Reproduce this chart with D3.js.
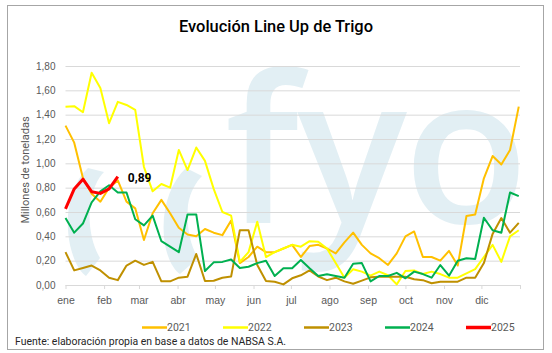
<!DOCTYPE html>
<html>
<head>
<meta charset="utf-8">
<script src="https://cdn.jsdelivr.net/npm/d3@7"></script>
<style>
body { margin: 0; background: #fff; }
svg { display: block; font-family: Roboto, 'Open Sans', sans-serif; }
</style>
</head>
<body>
<div id="chart"></div>
<script>
// datos semanales (millones de toneladas), semana 1 = 1 de enero
var months = ['ene', 'feb', 'mar', 'abr', 'may', 'jun', 'jul', 'ago', 'sep', 'oct', 'nov', 'dic'];
var yTicks = [0, 0.2, 0.4, 0.6, 0.8, 1.0, 1.2, 1.4, 1.6, 1.8];
var years = ['2021', '2022', '2023', '2024', '2025'];
var colors = ['#FFC000', '#FFFF00', '#BF9000', '#00B050', '#FF0000'];

var y2021 = [1.31, 1.17, 0.88, 0.75, 0.685, 0.80, 0.86, 0.685, 0.63, 0.37, 0.59, 0.70, 0.59, 0.47, 0.415, 0.40, 0.46, 0.43, 0.41, 0.53,
  0.18, 0.23, 0.315, 0.27, 0.27, 0.30, 0.33, 0.23, 0.32, 0.33, 0.30, 0.26, 0.35, 0.43, 0.33, 0.26, 0.22, 0.165, 0.26, 0.40,
  0.44, 0.23, 0.23, 0.20, 0.28, 0.16, 0.567, 0.58, 0.877, 1.06, 0.99, 1.11, 1.466];
var y2022 = [1.466, 1.47, 1.42, 1.745, 1.62, 1.33, 1.505, 1.48, 1.44, 0.97, 0.77, 0.83, 0.80, 1.11, 0.945, 1.13, 1.02, 0.79, 0.60, 0.57,
  0.19, 0.27, 0.52, 0.23, 0.27, 0.30, 0.33, 0.315, 0.36, 0.355, 0.30, 0.18, 0.06, 0.13, 0.11, 0.077, 0.11, 0.08, 0.005, 0.115,
  0.12, 0.09, 0.11, 0.09, 0.06, 0.06, 0.096, 0.13, 0.23, 0.33, 0.19, 0.40, 0.45];
var y2023 = [0.27, 0.12, 0.14, 0.16, 0.12, 0.06, 0.04, 0.16, 0.20, 0.165, 0.19, 0.03, 0.03, 0.06, 0.068, 0.255, 0.033, 0.035, 0.06, 0.07,
  0.45, 0.45, 0.165, 0.033, 0.027, 0.005, 0.055, 0.08, 0.12, 0.07, 0.04, 0.06, 0.03, 0.01, 0.036, 0.063, 0.068, 0.068, 0.068, 0.068,
  0.047, 0.04, 0.014, 0.027, 0.027, 0.027, 0.06, 0.06, 0.18, 0.42, 0.55, 0.43, 0.51];
var y2024 = [0.55, 0.43, 0.505, 0.68, 0.77, 0.82, 0.76, 0.76, 0.54, 0.49, 0.57, 0.36, 0.315, 0.27, 0.58, 0.58, 0.115, 0.186, 0.19, 0.21,
  0.14, 0.15, 0.18, 0.20, 0.074, 0.137, 0.137, 0.205, 0.137, 0.074, 0.088, 0.074, 0.06, 0.175, 0.18, 0.03, 0.074, 0.074, 0.10, 0.055,
  0.11, 0.09, 0.06, 0.164, 0.077, 0.20, 0.22, 0.214, 0.553, 0.45, 0.43, 0.76, 0.73];
var y2025 = [0.625, 0.79, 0.87, 0.767, 0.753, 0.79, 0.89];

var series = [y2021, y2022, y2023, y2024, y2025];

var chartW = 552, chartH = 353;
var plotLeft = 65.5, plotRight = 520, plotTop = 66, plotBottom = 285;

var svg = d3.select('#chart').append('svg')
  .attr('width', chartW)
  .attr('height', chartH);

// marco
svg.append('rect')
  .attr('x', 7.5).attr('y', 5.5)
  .attr('width', 536).attr('height', 344)
  .attr('fill', '#fff')
  .attr('stroke', '#a6a6a6');

// marca de agua
var wm = svg.append('g').attr('fill', '#e2eff4');
wm.append('path')
  .attr('d', 'M88,168 C70,185 64,215 70,245 C74,262 80,272 86,276 L100,258 C92,245 88,225 90,205 C92,190 98,178 104,172 Z');
wm.append('path')
  .attr('d', 'M186,168 C168,185 160,215 165,245 C168,260 174,270 180,274 L198,258 C190,245 186,225 188,205 C190,192 196,182 202,176 Z');
wm.append('text').attr('x', 262).attr('y', 223).attr('text-anchor', 'middle')
  .style('font-family', "'Open Sans'").style('font-weight', 600).style('font-size', '205px').text('f');
wm.append('text').attr('x', 352).attr('y', 223).attr('text-anchor', 'middle')
  .style('font-family', "'Open Sans'").style('font-weight', 600).style('font-size', '205px').text('y');
wm.append('text').attr('x', 466).attr('y', 223).attr('text-anchor', 'middle')
  .style('font-family', "'Open Sans'").style('font-weight', 600).style('font-size', '205px').text('o');

var x = d3.scaleUtc()
  .domain([new Date(Date.UTC(2021, 0, 1)), new Date(Date.UTC(2022, 0, 1))])
  .range([plotLeft, plotRight]);

var y = d3.scaleLinear()
  .domain([0, 1.8])
  .range([plotBottom, plotTop]);

function week_date(i) {
  return new Date(Date.UTC(2021, 0, 1 + 7 * i));
}

// eje y + grilla
var yAxis = svg.append('g')
  .attr('transform', 'translate(' + plotLeft + ',0)')
  .call(d3.axisLeft(y)
    .tickValues(yTicks)
    .tickSize(-(plotRight - plotLeft))
    .tickPadding(10)
    .tickFormat(function(d) { return d3.format('.2f')(d).replace('.', ','); }));
yAxis.select('.domain').remove();
yAxis.selectAll('line').attr('stroke', '#d9d9d9');
yAxis.selectAll('text').attr('fill', '#595959').style('font-size', '10px');

// eje x
var monthTicks = d3.utcMonth.range(new Date(Date.UTC(2021, 0, 1)), new Date(Date.UTC(2022, 0, 2)));
var xAxis = svg.append('g')
  .attr('transform', 'translate(0,' + plotBottom + ')')
  .call(d3.axisBottom(x)
    .tickValues(monthTicks)
    .tickSize(4)
    .tickSizeOuter(0)
    .tickPadding(8)
    .tickFormat(function(d, i) { return months[i] || ''; }));
xAxis.select('.domain').attr('stroke', '#d9d9d9');
xAxis.selectAll('line').attr('stroke', '#d9d9d9');
xAxis.selectAll('text').attr('fill', '#595959').style('font-size', '10.5px');

// titulo eje y
svg.append('text')
  .attr('transform', 'translate(29,170) rotate(-90)')
  .attr('text-anchor', 'middle')
  .attr('fill', '#595959')
  .style('font-size', '11px')
  .text('Millones de toneladas');

// lineas
var line = d3.line()
  .x(function(d, i) { return x(week_date(i)); })
  .y(function(d) { return y(d); });

svg.append('g').selectAll('path')
  .data(series)
  .enter().append('path')
  .attr('d', line)
  .attr('fill', 'none')
  .attr('stroke', function(d, i) { return colors[i]; })
  .attr('stroke-width', function(d, i) { return i == 4 ? 3 : 2; })
  .attr('stroke-linejoin', 'round');

// etiqueta ultimo dato
var lastIdx = y2025.length - 1;
svg.append('text')
  .attr('x', x(week_date(lastIdx)) + 10)
  .attr('y', y(y2025[lastIdx]) + 5)
  .attr('fill', '#000')
  .style('font-size', '12px')
  .style('font-weight', 'bold')
  .text(d3.format('.2f')(y2025[lastIdx]).replace('.', ','));

// titulo
svg.append('text')
  .attr('x', 276)
  .attr('y', 32)
  .attr('text-anchor', 'middle')
  .attr('fill', '#000')
  .attr('textLength', 194)
  .attr('lengthAdjust', 'spacingAndGlyphs')
  .style('font-size', '16px')
  .style('font-weight', 500)
  .text('Evolución Line Up de Trigo');

// leyenda
var legend = svg.append('g').selectAll('g')
  .data(years)
  .enter().append('g')
  .attr('transform', function(d, i) { return 'translate(' + (142 + 81 * i) + ',327.5)'; });

legend.append('line')
  .attr('x1', 0).attr('x2', 25)
  .attr('stroke', function(d, i) { return colors[i]; })
  .attr('stroke-width', function(d, i) { return i == 4 ? 3.5 : 2.5; });

legend.append('text')
  .attr('x', 25)
  .attr('y', 3.5)
  .attr('fill', '#595959')
  .style('font-size', '10.5px')
  .text(function(d) { return d; });

// fuente
svg.append('text')
  .attr('x', 15)
  .attr('y', 345)
  .attr('fill', '#262626')
  .attr('textLength', 271)
  .attr('lengthAdjust', 'spacingAndGlyphs')
  .style('font-size', '11px')
  .text('Fuente: elaboración propia en base a datos de NABSA S.A.');
</script>
</body>
</html>
